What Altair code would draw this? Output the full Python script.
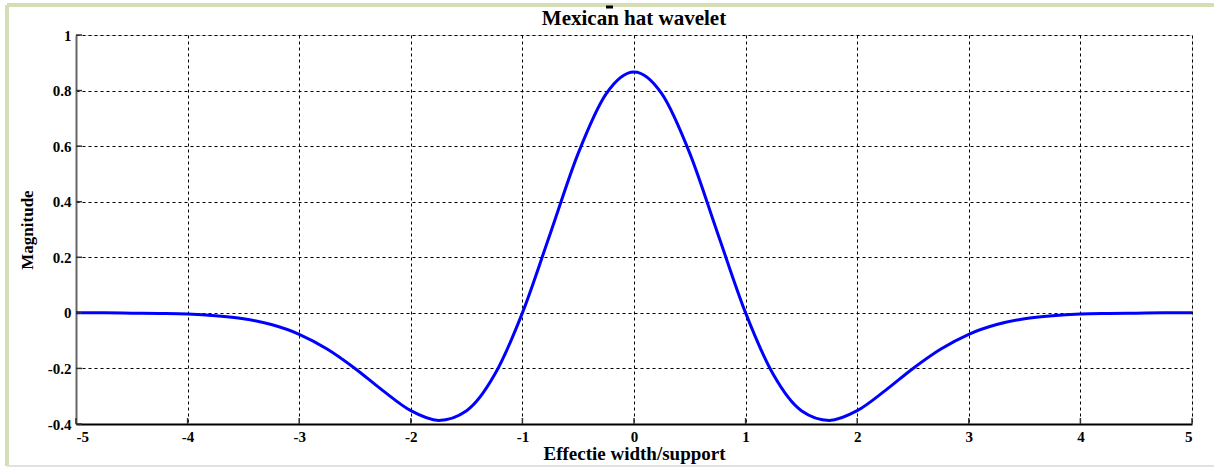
import altair as alt
import pandas as pd

# Mexican hat wavelet samples (effective width/support vs. magnitude)
t_values = [-5.0, -4.75, -4.5, -4.25, -4.0, -3.75, -3.5, -3.25, -3.0, -2.75,
            -2.5, -2.25, -2.0, -1.75, -1.5, -1.25, -1.0, -0.75, -0.5, -0.25,
            0.0, 0.25, 0.5, 0.75, 1.0, 1.25, 1.5, 1.75, 2.0, 2.25,
            2.5, 2.75, 3.0, 3.25, 3.5, 3.75, 4.0, 4.25, 4.5, 4.75, 5.0]
magnitude = [0.000, 0.000, -0.001, -0.002, -0.004, -0.010, -0.021, -0.042, -0.077, -0.130,
             -0.200, -0.280, -0.352, -0.387, -0.352, -0.223, 0.000, 0.286, 0.574, 0.788,
             0.867, 0.788, 0.574, 0.286, 0.000, -0.223, -0.352, -0.387, -0.352, -0.280,
             -0.200, -0.130, -0.077, -0.042, -0.021, -0.010, -0.004, -0.002, -0.001, 0.000, 0.000]

x_ticks = [-5, -4, -3, -2, -1, 0, 1, 2, 3, 4, 5]
y_ticks = [-0.4, -0.2, 0, 0.2, 0.4, 0.6, 0.8, 1]
chart_title = ["Mexican hat wavelet"]

W, H = 1116, 389
FONT = "Liberation Serif"

curve = pd.DataFrame({"t": t_values, "m": magnitude})
xt = pd.DataFrame({"t": x_ticks})
yt = pd.DataFrame({"m": y_ticks})
tt = pd.DataFrame({"label": chart_title})

xscale = alt.Scale(domain=[-5, 5], nice=False, zero=False)
yscale = alt.Scale(domain=[-0.4, 1], nice=False, zero=False)

x_axis = alt.Axis(
    values=x_ticks, labelExpr="toString(datum.value)", title="Effectie width/support",
    grid=True, gridColor="#000000", gridDash=[3, 3], gridWidth=1,
    domainColor="#000000", domainWidth=2, ticks=False,
    labelFont=FONT, labelFontWeight="bold", labelFontSize=15, labelColor="#000000",
    labelPadding=5, titleFont=FONT, titleFontWeight="bold", titleFontSize=19,
    titleColor="#000000", titlePadding=0,
)
y_axis = alt.Axis(
    values=y_ticks, labelExpr="toString(datum.value)", title="Magnitude",
    grid=True, gridColor="#000000", gridDash=[3, 3], gridWidth=1,
    domainColor="#666666", domainWidth=2, ticks=False,
    labelFont=FONT, labelFontWeight="bold", labelFontSize=15, labelColor="#000000",
    labelPadding=5, titleFont=FONT, titleFontWeight="bold", titleFontSize=17,
    titleColor="#000000", titlePadding=11,
)

line = alt.Chart(curve).mark_line(color="#0000ff", strokeWidth=3, interpolate="monotone").encode(
    x=alt.X("t:Q", scale=xscale, axis=x_axis),
    y=alt.Y("m:Q", scale=yscale, axis=y_axis),
)

# inward tick marks along the bottom and left axes
xtick_marks = alt.Chart(xt).mark_rule(color="#333333", strokeWidth=1.5).encode(
    x=alt.X("t:Q", scale=xscale), y=alt.value(H), y2=alt.value(H - 6)
)
ytick_marks = alt.Chart(yt).mark_rule(color="#333333", strokeWidth=1.5).encode(
    y=alt.Y("m:Q", scale=yscale), x=alt.value(0), x2=alt.value(6)
)

# chart title drawn above the plot area
title_mark = alt.Chart(tt).mark_text(
    font=FONT, fontWeight="bold", fontSize=21, color="#000000",
    align="center", baseline="middle", clip=False,
).encode(x=alt.value(W / 2), y=alt.value(-16), text="label:N")

# small dash above the title and the light figure frame
dash = alt.Chart(tt).mark_rule(color="#000000", strokeWidth=3, clip=False).encode(
    x=alt.value(530), x2=alt.value(537), y=alt.value(-28)
)
frame_left = alt.Chart(xt).mark_rule(color="#d3deb5", strokeWidth=3, clip=False).encode(
    x=alt.value(-69), y=alt.value(-30), y2=alt.value(431)
)
frame_top = alt.Chart(xt).mark_rule(color="#d3deb5", strokeWidth=3, clip=False).encode(
    x=alt.value(-69), x2=alt.value(1140), y=alt.value(-30)
)
frame_bottom = alt.Chart(xt).mark_rule(color="#e2e2dc", strokeWidth=2, clip=False).encode(
    x=alt.value(-69), x2=alt.value(1140), y=alt.value(431)
)

chart = alt.layer(
    frame_left, frame_top, frame_bottom, line, xtick_marks, ytick_marks, title_mark, dash
).properties(
    width=W, height=H,
    padding={"left": 76, "top": 35, "right": 22, "bottom": 44},
    autosize="none",
).configure_view(stroke=None).configure(background="#ffffff")

chart.save("out.html", embed_options={"renderer": "svg", "actions": False})
